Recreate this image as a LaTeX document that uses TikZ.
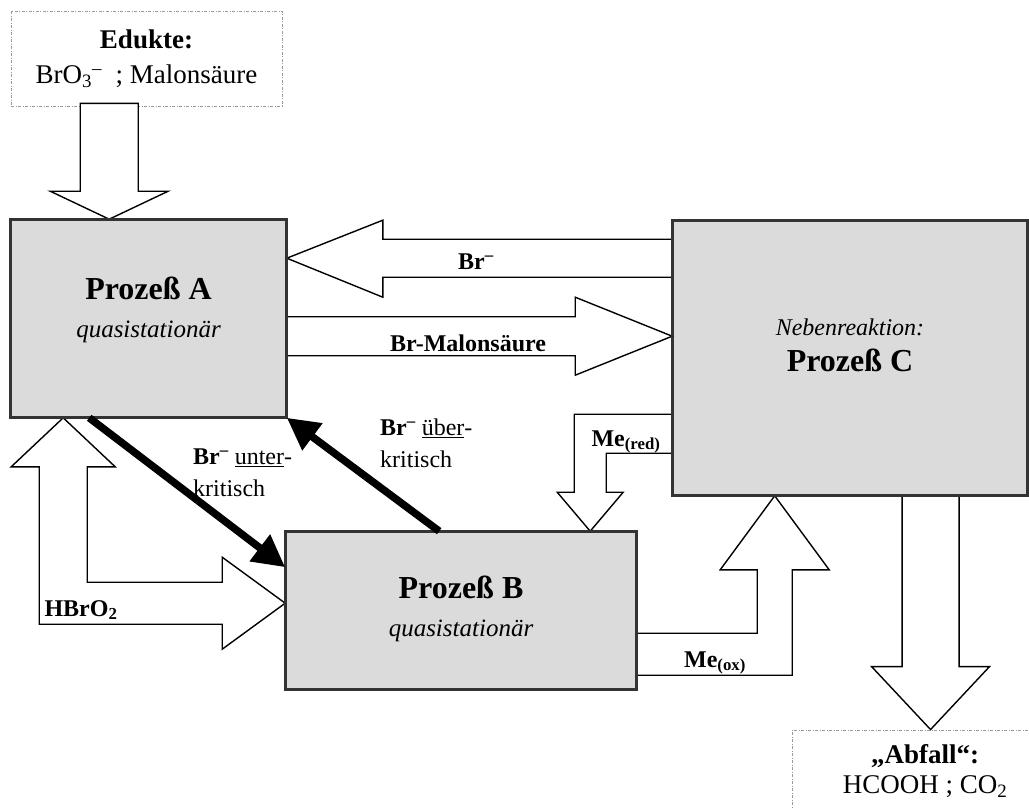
\documentclass[tikz,border=0pt]{standalone}
\usepackage{fontspec}
\setmainfont{Liberation Serif}
\usetikzlibrary{
	arrows.meta,
	calc,
}
\tikzset{process/.style={
		% The shape:
		rectangle,
		% The border:
		draw=black!80, line width=1.6pt,
		% The filling:
		fill=black!14,
		inner sep=0pt,
}}
\tikzset{stockbox/.style={
		% The shape:
		rectangle,
		% The border: thin, grey, dash-dotted
		draw=black!40, line width=0.9pt,
		dash pattern=on 3pt off 1.5pt on 1pt off 1.5pt,
		% text in two centred lines
		align=center, inner sep=0pt,
		font=\fontsize{27}{35}\selectfont,
}}
\tikzset{fatarrow/.style={
		% white block arrow with a thin black outline
		draw=black, line width=1.4pt, fill=white, line join=miter,
}}
\tikzset{critarrow/.style={
		% heavy black arrow
		line width=7.5pt, -{Triangle[length=32pt,width=32pt]},
}}
\tikzset{flowlabel/.style={
		font=\bfseries\fontsize{24}{30}\selectfont, inner sep=0pt,
}}

\begin{document}
\begin{tikzpicture}[x=1pt,y=-1pt]
	\useasboundingbox (0,0) rectangle (1029,808);
	\fill[white] (0,0) rectangle (1029,808);
	\clip (0,0) rectangle (1029,808);
	% the three processes
	\node[process, minimum width=275, minimum height=197] (A) at (148.5,318.5) {};
	\node[process, minimum width=350, minimum height=157] (B) at (461,610.5) {};
	\node[process, minimum width=354, minimum height=274] (C) at (850,358) {};
	% in and out
	\node[stockbox, minimum width=271, minimum height=95] (E) at (146.5,58.5) {\textbf{Edukte:}\\BrO\textsubscript{3}\textsuperscript{–}\ \ ; Malonsäure};
	\node[stockbox, minimum width=266, minimum height=82, font=\fontsize{27}{30}\selectfont] (Ab) at (925,771) {\textbf{„Abfall“:}\\HCOOH ; CO\textsubscript{2}};
	% block arrows
	\coordinate (eatip) at ($(A.north west)+(99,0)$);
	\draw[fatarrow] (eatip) -- ++(-59,-28) -- ++(30,0) -- ($(eatip |- E.south)+(-29,-3)$) -- ++(58,0) -- ($(eatip)+(29,-28)$) -- ++(30,0) -- cycle;
	\coordinate (brtip) at ($(A.north east)+(0,39)$);
	\draw[fatarrow] (brtip) -- ++(96,-38) -- ++(0,19) -- ($(brtip -| C.west)+(0,-19)$) -- ++(0,38) -- ($(brtip)+(96,19)$) -- ++(0,20) -- cycle;
	\coordinate (bmtip) at ($(C.north west)+(0,116)$);
	\draw[fatarrow] (bmtip) -- ++(-97,-39) -- ++(0,19.5) -- ($(bmtip -| A.east)+(0,-19.5)$) -- ++(0,39) -- ($(bmtip)+(-97,19.5)$) -- ++(0,19.5) -- cycle;
	\coordinate (abtip) at ($(Ab.north west)+(139,0)$);
	\draw[fatarrow] (abtip) -- ++(-59,-63) -- ++(30.5,0) -- ($(abtip |- C.south)+(-28.5,0)$) -- ++(57,0) -- ($(abtip)+(28.5,-63)$) -- ++(30.5,0) -- cycle;
	\coordinate (mrtip) at ($(B.north west)+(305,0)$);
	\coordinate (mrtop) at ($(C.north west)+(0,194)$);
	\draw[fatarrow] (mrtip) -- ++(-33,-39) -- ++(17,0) |- (mrtop) -- ++(0,39) -| ($(mrtip)+(16,-39)$) -- ++(17,0) -- cycle;
	\coordinate (motip) at ($(C.south west)+(102.5,0)$);
	\coordinate (mobot) at ($(B.north east)+(0,144)$);
	\draw[fatarrow] (motip) -- ++(54.5,74) -- ++(-37,0) |- (mobot) -- ++(0,-42) -| ($(motip)+(-17.5,74)$) -- ++(-37,0) -- cycle;
	\coordinate (hbup) at ($(A.south west)+(53,0)$);
	\coordinate (hbright) at ($(B.north west)+(0,72)$);
	\draw[fatarrow] (hbup) -- ++(52,49) -- ++(-28,0) |- ($(hbright)+(-63,-21)$) -- ++(0,-25) -- (hbright) -- ++(-63,46) -- ++(0,-25) -| ($(hbup)+(-24,49)$) -- ++(-28,0) -- cycle;
	% redraw the borders over the arrow ends
	\draw[black!80, line width=1.6pt] (A.north west) rectangle (A.south east) (B.north west) rectangle (B.south east) (C.north west) rectangle (C.south east);
	% critical Br- switching
	\draw[critarrow] ($(A.south west)+(79,0)$) -- ($(B.north west)+(0,36)$);
	\draw[critarrow] ($(B.north west)+(154,0)$) -- (A.south east);
	% texts of the processes
	\node[align=center, font=\fontsize{25}{38}\selectfont] (Atext) at ([yshift=9pt]A.center) {{\bfseries\fontsize{32}{38}\selectfont Prozeß A}\\{\itshape quasistationär}};
	\node[align=center, font=\fontsize{25}{38}\selectfont] (Btext) at ([yshift=2pt]B.center) {{\bfseries\fontsize{32}{38}\selectfont Prozeß B}\\{\itshape quasistationär}};
	\node[align=center, font=\fontsize{24}{36}\selectfont] (Ctext) at ([yshift=13pt]C.center) {{\itshape Nebenreaktion:}\\{\bfseries\fontsize{32}{36}\selectfont Prozeß C}};
	% labels of the flows
	\node[flowlabel] (brlabel) at (476,262) {Br\textsuperscript{–}};
	\node[flowlabel] (bmlabel) at (468,343) {Br-Malonsäure};
	\node[flowlabel] (hblabel) at (81,610) {HBrO\textsubscript{2}};
	\node[flowlabel] (mrlabel) at (626,442) {Me\textsubscript{(red)}};
	\node[flowlabel] (molabel) at (715,663) {Me\textsubscript{(ox)}};
	\node[flowlabel, font=\fontsize{24}{32}\selectfont, align=left, anchor=north west] (unter) at (193,449) {\textbf{Br\textsuperscript{–}} \underline{unter}-\\kritisch};
	\node[flowlabel, font=\fontsize{24}{32}\selectfont, align=left, anchor=north west] (ueber) at (380,419) {\textbf{Br\textsuperscript{–}} \underline{über}-\\kritisch};
\end{tikzpicture}
\end{document}
